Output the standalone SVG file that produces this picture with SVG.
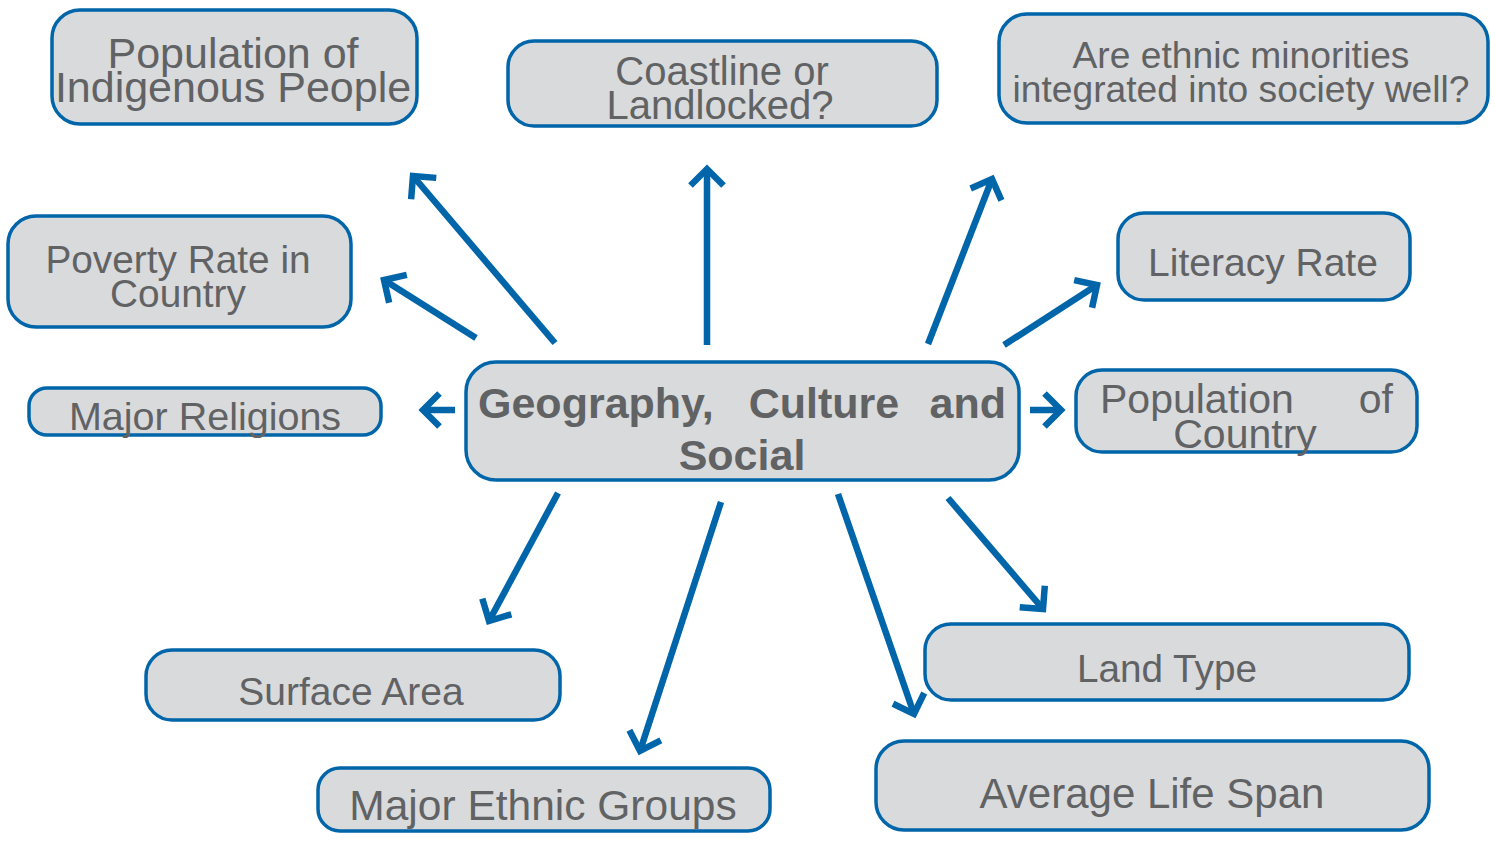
<svg xmlns="http://www.w3.org/2000/svg" width="1495" height="843" viewBox="0 0 1495 843">
<style>
.box{fill:#d9dadc;stroke:#0065a9;stroke-width:3.5}
.t{font-family:"Liberation Sans",Arial,sans-serif;fill:#616264;text-anchor:middle}
.b{font-weight:bold}
.c line{stroke:#0065a9;stroke-width:6.5;marker-end:url(#ah)}
</style>
<defs>
<marker id="ah" markerUnits="userSpaceOnUse" orient="auto" refX="0" refY="0" markerWidth="40" markerHeight="40" viewBox="-25 -20 40 40" overflow="visible">
<path d="M-16.5,-16.5 L0,0 L-16.5,16.5" fill="none" stroke="#0065a9" stroke-width="6.5" stroke-linejoin="miter"/>
</marker>
</defs>
<rect width="1495" height="843" fill="#fff"/>
<g class="c" id="connectors">
<line x1="555" y1="343" x2="413" y2="176"/>
<line x1="707" y1="345" x2="707" y2="169"/>
<line x1="928" y1="344" x2="992" y2="179"/>
<line x1="476" y1="338" x2="384" y2="280"/>
<line x1="1004" y1="345" x2="1097" y2="285"/>
<line x1="455" y1="410" x2="423" y2="410"/>
<line x1="1030" y1="410" x2="1061" y2="410"/>
<line x1="558" y1="493" x2="489" y2="621"/>
<line x1="721" y1="502" x2="640" y2="751"/>
<line x1="838" y1="494" x2="914" y2="714"/>
<line x1="948" y1="498" x2="1043" y2="609"/>
</g>
<g id="n-indigenous"><rect class="box" x="52" y="10" width="365" height="114" rx="28"/>
<text class="t" font-size="43"><tspan x="233" y="68">Population of</tspan><tspan x="233" y="102">Indigenous People</tspan></text></g>
<g id="n-coast"><rect class="box" x="508" y="41" width="429" height="85" rx="26"/>
<text class="t" font-size="40"><tspan x="722" y="85">Coastline or</tspan><tspan x="720" y="119">Landlocked?</tspan></text></g>
<g id="n-minorities"><rect class="box" x="999" y="14" width="489" height="109" rx="28"/>
<text class="t" font-size="37.2"><tspan x="1241" y="68">Are ethnic minorities</tspan><tspan x="1241" y="102">integrated into society well?</tspan></text></g>
<g id="n-poverty"><rect class="box" x="8" y="216" width="343" height="111" rx="28"/>
<text class="t" font-size="38.8"><tspan x="178" y="273">Poverty Rate in</tspan><tspan x="178" y="307">Country</tspan></text></g>
<g id="n-literacy"><rect class="box" x="1118" y="213" width="292" height="87" rx="26"/>
<text class="t" font-size="39" x="1263" y="276">Literacy Rate</text></g>
<g id="n-religions"><rect class="box" x="29" y="388" width="352" height="47" rx="18"/>
<text class="t" font-size="39.5" x="205" y="430">Major Religions</text></g>
<g id="n-center"><rect class="box" x="466" y="362" width="553" height="118" rx="30"/>
<text class="t b" font-size="43"><tspan x="478" y="418" text-anchor="start">Geography,</tspan><tspan x="824" y="418">Culture</tspan><tspan x="1006" y="418" text-anchor="end">and</tspan><tspan x="742" y="470">Social</tspan></text></g>
<g id="n-popcountry"><rect class="box" x="1076" y="370" width="341" height="82" rx="26"/>
<text class="t" font-size="41"><tspan x="1100" y="413" text-anchor="start">Population</tspan><tspan x="1393" y="413" text-anchor="end">of</tspan><tspan x="1245" y="448">Country</tspan></text></g>
<g id="n-surface"><rect class="box" x="146" y="650" width="414" height="70" rx="26"/>
<text class="t" font-size="39" x="351" y="705">Surface Area</text></g>
<g id="n-land"><rect class="box" x="925" y="624" width="484" height="76" rx="26"/>
<text class="t" font-size="38.7" x="1167" y="682">Land Type</text></g>
<g id="n-ethnic"><rect class="box" x="318" y="768" width="452" height="63" rx="22"/>
<text class="t" font-size="42.5" x="543" y="820">Major Ethnic Groups</text></g>
<g id="n-lifespan"><rect class="box" x="876" y="741" width="553" height="89" rx="28"/>
<text class="t" font-size="42" x="1152" y="808">Average Life Span</text></g>
</svg>
